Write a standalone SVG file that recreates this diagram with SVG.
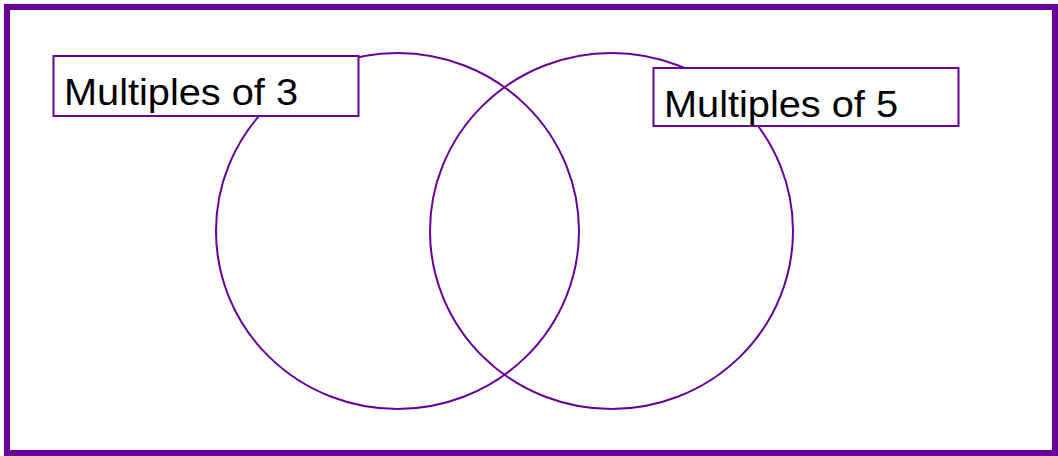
<svg xmlns="http://www.w3.org/2000/svg" width="1058" height="456" viewBox="0 0 1058 456">
<style>
.frame{fill:#fff;stroke:#660099;stroke-width:6}
.set{fill:none;stroke:#660099;stroke-width:2}
.box{fill:#fff;stroke:#660099;stroke-width:2}
.lbl{font-family:"Liberation Sans",Arial,sans-serif;font-size:36px;fill:#000}
</style>
<rect class="frame" x="7" y="7" width="1048" height="446"/>
<g id="connectors"></g>
<g id="set3"><ellipse class="set" cx="397.5" cy="231" rx="181.5" ry="178"/></g>
<g id="set5"><ellipse class="set" cx="611.5" cy="231" rx="181.5" ry="178"/></g>
<g id="label3"><rect class="box" x="53.5" y="56" width="305" height="60"/><text class="lbl" x="64" y="105" textLength="234" lengthAdjust="spacingAndGlyphs">Multiples of 3</text></g>
<g id="label5"><rect class="box" x="653.5" y="68" width="305" height="58"/><text class="lbl" x="664" y="117" textLength="234" lengthAdjust="spacingAndGlyphs">Multiples of 5</text></g>
</svg>
